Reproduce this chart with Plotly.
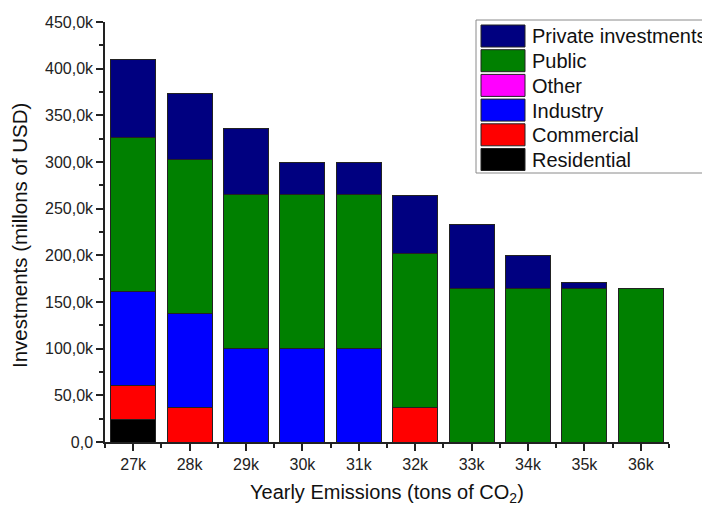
import plotly.graph_objects as go

# Emission scenarios on the x axis
categories = ["27k", "28k", "29k", "30k", "31k", "32k", "33k", "34k", "35k", "36k"]

# Investment per sector (thousands of millions of USD), stacked bottom to top
residential = [24, 0, 0, 0, 0, 0, 0, 0, 0, 0]
commercial = [37, 37, 0, 0, 0, 37, 0, 0, 0, 0]
industry = [100, 101, 100, 100, 100, 0, 0, 0, 0, 0]
other = [0, 0, 0, 0, 0, 0, 0, 0, 0, 0]
public = [165, 165, 165, 165, 165, 165, 165, 165, 165, 165]
private = [84, 70, 71, 34, 34, 62, 68, 35, 6, 0]

series_names = ["Residential", "Commercial", "Industry", "Other", "Public", "Private investments"]
series_values = [residential, commercial, industry, other, public, private]
series_colors = ["#000000", "#ff0000", "#0000ff", "#ff00ff", "#008000", "#000080"]

y_tick_values = [0, 50, 100, 150, 200, 250, 300, 350, 400, 450]
y_tick_labels = ["0,0", "50,0k", "100,0k", "150,0k", "200,0k", "250,0k",
                 "300,0k", "350,0k", "400,0k", "450,0k"]

FONT = "Liberation Sans, Arial, sans-serif"
W, H = 702, 508
ML, MR, MT, MB = 105, 33, 22, 66
PW, PH = W - ML - MR, H - MT - MB


def px_x(p):
    return (p - ML) / PW


def px_y(p):
    return (H - MB - p) / PH


xs = list(range(len(categories)))

fig = go.Figure()
for name, vals, col in zip(series_names, series_values, series_colors):
    fig.add_trace(go.Bar(
        x=xs, y=vals, name=name, width=0.8,
        marker=dict(color=col, line=dict(color="#222222", width=0 if name == "Other" else 1)),
        showlegend=False,
    ))

# Legend box drawn on the page, top entry = top of the stack
shapes = [dict(type="rect", xref="paper", yref="paper",
               x0=px_x(476), x1=px_x(730), y0=px_y(173), y1=px_y(20),
               line=dict(color="#8a8a8a", width=1), fillcolor="white", layer="above")]
annotations = []
row_h = 24.7
for i, (name, col) in enumerate(zip(series_names[::-1], series_colors[::-1])):
    top = 25 + i * row_h
    shapes.append(dict(type="rect", xref="paper", yref="paper",
                       x0=px_x(481), x1=px_x(525), y0=px_y(top + 22), y1=px_y(top),
                       line=dict(color="#222222", width=1), fillcolor=col, layer="above"))
    annotations.append(dict(xref="paper", yref="paper", x=px_x(530), y=px_y(top + 11.5),
                            text=name, showarrow=False, xanchor="left", yanchor="middle",
                            font=dict(family=FONT, size=20, color="#111111")))

annotations.append(dict(xref="paper", yref="paper", x=px_x(19), y=px_y(236),
                        text="Investments (millons of USD)", textangle=-90, showarrow=False,
                        xanchor="center", yanchor="middle",
                        font=dict(family=FONT, size=20.5, color="#111111")))
annotations.append(dict(xref="paper", yref="paper", x=0.5, y=px_y(493),
                        text="Yearly Emissions (tons of CO<sub>2</sub>)", showarrow=False,
                        xanchor="center", yanchor="middle",
                        font=dict(family=FONT, size=20, color="#111111")))

fig.update_layout(
    width=W, height=H,
    margin=dict(l=ML, r=MR, t=MT, b=MB, autoexpand=False),
    paper_bgcolor="white", plot_bgcolor="white",
    barmode="stack", bargap=0.2,
    showlegend=False,
    shapes=shapes, annotations=annotations,
    font=dict(family=FONT, color="#222222"),
    xaxis=dict(
        range=[-0.5, len(categories) - 0.5],
        tickmode="array", tickvals=xs, ticktext=categories,
        ticks="outside", ticklen=7, tickwidth=1.5, tickcolor="#222222",
        minor=dict(tickmode="array", tickvals=[i - 0.5 for i in range(len(categories) + 1)],
                   ticks="outside", ticklen=4, tickwidth=1.5, tickcolor="#222222"),
        showline=True, linecolor="#222222", linewidth=1.5,
        showgrid=False, zeroline=False,
        tickfont=dict(family=FONT, size=16, color="#222222"),
    ),
    yaxis=dict(
        range=[0, 450],
        tickmode="array", tickvals=y_tick_values, ticktext=y_tick_labels,
        ticks="outside", ticklen=7, tickwidth=1.5, tickcolor="#222222",
        minor=dict(tickmode="array", tickvals=[v + 25 for v in y_tick_values[:-1]],
                   ticks="outside", ticklen=4, tickwidth=1.5, tickcolor="#222222"),
        showline=True, linecolor="#222222", linewidth=1.5,
        showgrid=False, zeroline=False,
        tickfont=dict(family=FONT, size=16, color="#222222"),
    ),
)

fig.write_html("out.html")
